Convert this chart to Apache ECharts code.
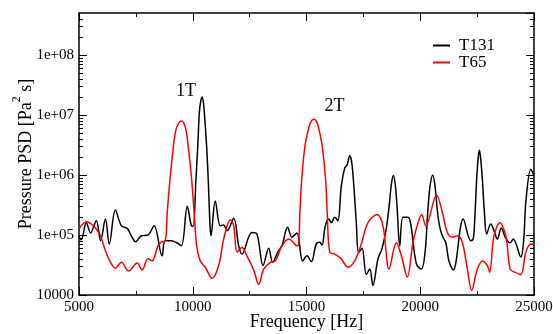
<!DOCTYPE html>
<html><head><meta charset="utf-8">
<script src="https://cdn.jsdelivr.net/npm/echarts@6/dist/echarts.min.js"></script>
<style>html,body{margin:0;padding:0;background:#fff}#c{width:553px;height:334px}</style>
</head><body><div id="c"></div>
<script>
const xTicks = [5000, 10000, 15000, 20000, 25000];
const yTickLabels = ['10000', '1e+05', '1e+06', '1e+07', '1e+08'];
const seriesNames = ['T131', 'T65'];

const freqT131 = [5000,5100,5320,5510,5760,5950,6160,6330,6600,6860,7120,7300,7490,7740,8030,8300,8650,8790,9060,9280,9500,9760,9940,10020,10140,10220,10290,10350,10410,10460,10510,10610,10680,10760,10800,10990,11210,11360,11510,11800,12020,12160,12600,12820,13090,13340,13510,13750,13920,14170,14360,14580,14830,15020,15210,15430,15580,15680,15830,15980,16090,16240,16380,16530,16680,16790,16900,17010,17190,17290,17440,17630,17780,17920,18140,18320,18510,18650,18730,18820,18900,18980,19100,19240,19460,19830,20050,20210,20330,20430,20550,20650,20750,20850,20970,21120,21260,21450,21890,22220,22330,22410,22480,22540,22600,22660,22730,22820,22920,23100,23240,23390,23560,23760,23950,24090,24420,24550,24640,24860,25000];
const psdT131 = [9.5e4,8.3e4,1.6e5,1.08e5,1.73e5,8e4,1.84e5,7.1e4,2.6e5,1.43e5,1.29e5,9.7e4,7.7e4,9.7e4,1e5,1.43e5,4.5e4,8e4,8e4,7.5e4,6.6e4,3e5,1.43e5,1.4e5,8.5e5,3e6,1.1e7,1.7e7,2e7,1.7e7,1.1e7,3e6,8.5e5,1.4e5,9.7e4,3.7e5,1.43e5,1.46e5,1.18e5,1.9e5,6.6e4,4.8e4,1.1e5,1.04e5,3.1e4,6e4,3.5e4,5.3e4,6.6e4,1.34e5,9.2e4,1.08e5,3.7e4,4.5e4,3.6e4,7.1e4,7.6e4,6.8e4,1.43e5,1.84e5,1.6e5,1.97e5,1.73e5,6.6e5,1.3e6,1.5e6,2.1e6,1.4e6,1.6e5,5.1e4,6e4,2.2e4,2.7e4,1.44e4,4e4,5.9e4,1.3e5,3.5e5,7e5,9.8e5,7e5,3e5,6.6e4,1.97e5,1.97e5,3.3e4,2.7e4,5.1e4,2.4e5,6.5e5,1e6,6.5e5,2.6e5,1.4e5,9.7e4,7.5e4,3.7e4,2.6e4,1.84e5,8e4,8.6e4,2.4e5,8.5e5,1.8e6,2.6e6,1.8e6,8.5e5,2.4e5,1.04e5,1.52e5,1.18e5,8.6e4,1.29e5,8.8e4,7.4e4,8.6e4,4.3e4,8.6e4,3.5e5,1.25e6,9.6e5];

const freqT65 = [5000,5320,5620,5910,6130,6350,6600,6860,7180,7560,7770,8030,8210,8470,8620,8790,8880,9000,9150,9260,9370,9480,9590,9700,9800,9950,10060,10170,10330,10550,10850,11140,11360,11650,11800,11950,12160,12380,12680,12900,13120,13410,13630,13920,14220,14440,14580,14640,14710,14790,14930,15080,15200,15330,15440,15550,15690,15840,15910,16020,16240,16530,16820,17120,17410,17700,18100,18360,18630,18950,19170,19430,19680,19900,20060,20240,20720,20970,21190,21410,21630,21850,22070,22260,22510,22730,22950,23050,23240,23500,23760,23950,24150,24420,24640,24860,25000];
const psdT65 = [1.26e5,1.66e5,1.43e5,1.04e5,5.9e4,3.7e4,2.8e4,3.5e4,2.5e4,3.4e4,2.6e4,4e4,3.7e4,6.6e4,7.7e4,8e4,2.4e5,8.5e5,3e6,5.7e6,7.2e6,7.9e6,7.5e6,5.7e6,3e6,8.5e5,2.4e5,6.6e4,3.7e4,2.9e4,1.9e4,3.1e4,8.6e4,1.8e5,1.43e5,5.2e4,6.2e4,4.5e4,2.6e4,1.5e4,2.7e4,3.5e4,3.7e4,6.6e4,8.6e4,7.4e4,6.6e4,6.6e4,2.4e5,8.5e5,3e6,5.7e6,7.8e6,8.5e6,7.8e6,5.7e6,3e6,8.5e5,2.4e5,5.2e4,4.8e4,4e4,2.9e4,3.7e4,7.1e4,1.6e5,2.2e5,1.43e5,2.7e4,7.4e4,4.5e4,2e4,7.5e4,1.6e5,2.2e5,1.43e5,4.6e5,2.4e5,1.1e5,9.2e4,9.7e4,7.5e4,2.7e4,1.2e4,2.7e4,3.7e4,3.1e4,2.4e4,9.7e4,1.6e5,9.7e4,2.7e4,2.4e4,2.2e4,5.2e4,7.1e4,7.1e4];

const annotationText = ['1T', '2T'];
const annotationFreq = [9700, 16230];
const annotationPsd = [2.5e7, 1.4e7];

const FONT = 'Liberation Serif';
const chart = echarts.init(document.getElementById('c'), null, {renderer: 'canvas'});

const minorVals = [];
for (let e = 4; e <= 8; e++) for (let m = 2; m <= 9; m++) { const v = m * Math.pow(10, e); if (v < 5e8) minorVals.push([xTicks[0], v]); }

function yLabel(v) {
  const e = Math.round(Math.log10(v));
  if (Math.abs(Math.log10(v) - e) > 1e-6) return '';
  const i = e - 4;
  return (i >= 0 && i < yTickLabels.length) ? yTickLabels[i] : '';
}

const axisLine = {show: true, lineStyle: {color: '#000', width: 1.5}};
const tickStyle = {color: '#000', width: 1};

chart.setOption({
  animation: false,
  backgroundColor: '#fff',
  grid: {left: 79, right: 19, top: 13, bottom: 39, containLabel: false, outerBoundsMode: 'none'},
  legend: {
    data: seriesNames, orient: 'vertical', left: 433, top: 37, padding: 0,
    icon: 'rect', itemWidth: 17, itemHeight: 2, itemGap: 0,
    textStyle: {fontFamily: FONT, fontSize: 17, color: '#000', padding: [0, 0, 0, 4]}
  },
  xAxis: [{
    type: 'value', min: xTicks[0], max: xTicks[xTicks.length - 1], interval: 5000,
    name: 'Frequency [Hz]', nameLocation: 'middle', nameGap: 18, nameMoveOverlap: false,
    nameTextStyle: {fontFamily: FONT, fontSize: 18, color: '#000'},
    axisLine: axisLine,
    axisTick: {inside: true, length: 8, lineStyle: tickStyle},
    minorTick: {show: true, splitNumber: 2, length: 4, lineStyle: tickStyle},
    axisLabel: {fontFamily: FONT, fontSize: 15, color: '#000', margin: 5, formatter: v => String(v)},
    splitLine: {show: false}, minorSplitLine: {show: false}
  }, {
    type: 'value', position: 'top', min: xTicks[0], max: xTicks[xTicks.length - 1], interval: 5000,
    axisLine: axisLine,
    axisTick: {inside: true, length: 8, lineStyle: tickStyle},
    minorTick: {show: true, splitNumber: 2, length: 4, lineStyle: tickStyle},
    axisLabel: {show: false}, splitLine: {show: false}
  }],
  yAxis: [{
    type: 'log', logBase: 10, min: 10000, max: 5e8,
    name: '{n|Pressure PSD [Pa}{sup|2}{n| s]}', nameLocation: 'middle', nameGap: 44, nameMoveOverlap: false,
    nameTextStyle: {fontFamily: FONT, fontSize: 18, color: '#000',
      rich: {
        n: {fontFamily: FONT, fontSize: 18, color: '#000', verticalAlign: 'bottom', lineHeight: 18},
        sup: {fontFamily: FONT, fontSize: 12, color: '#000', verticalAlign: 'bottom', lineHeight: 12, padding: [0, 0, 12, 0]}
      }},
    axisLine: axisLine,
    axisTick: {inside: true, length: 8, lineStyle: tickStyle},
    axisLabel: {fontFamily: FONT, fontSize: 15, color: '#000', margin: 5, formatter: yLabel, showMaxLabel: false},
    splitLine: {show: false}
  }, {
    type: 'log', logBase: 10, min: 10000, max: 5e8, position: 'right',
    axisLine: axisLine,
    axisTick: {inside: true, length: 8, lineStyle: tickStyle},
    axisLabel: {show: false}, splitLine: {show: false}
  }],
  series: [{
    name: seriesNames[0], type: 'line', showSymbol: false, symbol: 'none', smooth: 0.35,
    data: freqT131.map((f, i) => [f, psdT131[i]]),
    lineStyle: {color: '#000', width: 1.5}, itemStyle: {color: '#000'},
    markPoint: {
      symbol: 'circle', symbolSize: 1, itemStyle: {color: 'rgba(0,0,0,0)'},
      label: {show: true, position: 'inside', formatter: '{b}', fontFamily: FONT, fontSize: 18, color: '#000'},
      data: annotationText.map((t, i) => ({name: t, coord: [annotationFreq[i], annotationPsd[i]]}))
    }
  }, {
    name: seriesNames[1], type: 'line', showSymbol: false, symbol: 'none', smooth: 0.35,
    data: freqT65.map((f, i) => [f, psdT65[i]]),
    lineStyle: {color: '#ff0000', width: 1.5}, itemStyle: {color: '#ff0000'}
  }, {
    type: 'custom', name: 'minorTicks', silent: true, clip: false,
    data: minorVals, encode: {x: 0, y: 1},
    renderItem: function (params, api) {
      const cs = params.coordSys;
      const y = Math.round(api.coord([api.value(0), api.value(1)])[1]) + 0.5;
      return {type: 'group', children: [
        {type: 'line', shape: {x1: cs.x, y1: y, x2: cs.x + 4, y2: y}, style: {stroke: '#000', lineWidth: 1}},
        {type: 'line', shape: {x1: cs.x + cs.width - 4, y1: y, x2: cs.x + cs.width, y2: y}, style: {stroke: '#000', lineWidth: 1}}
      ]};
    }
  }]
});
</script>
</body></html>
